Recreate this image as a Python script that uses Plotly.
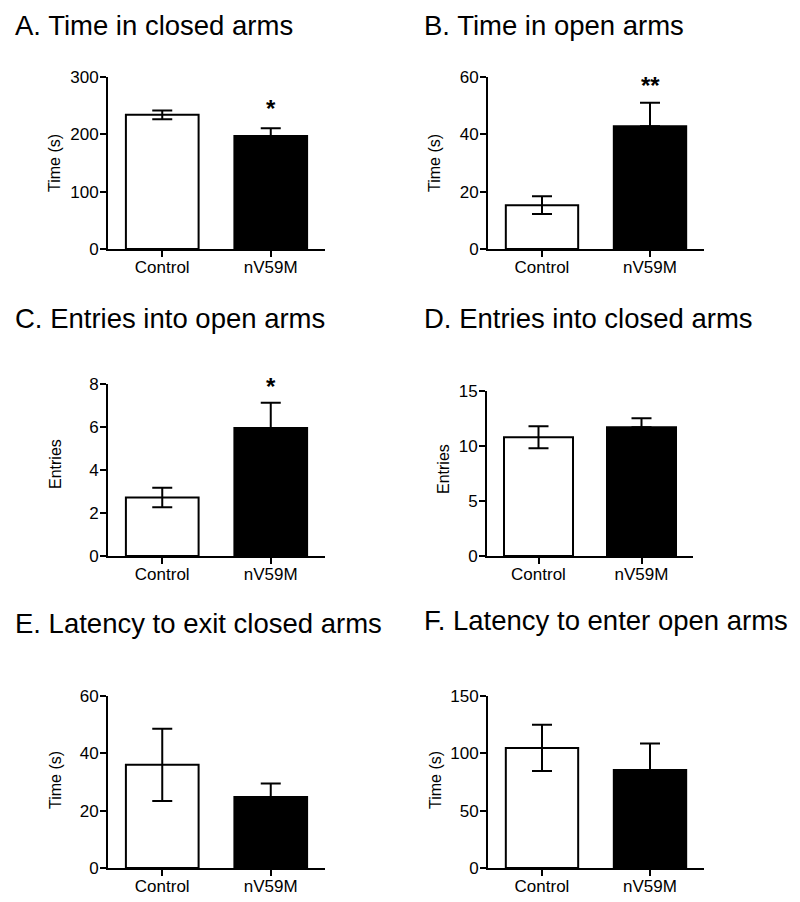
import plotly.graph_objects as go

groups = ["Control", "nV59M"]

titles = ["A. Time in closed arms", "B. Time in open arms", "C. Entries into open arms",
          "D. Entries into closed arms", "E. Latency to exit closed arms", "F. Latency to enter open arms"]
ylabels = ["Time (s)", "Time (s)", "Entries", "Entries", "Time (s)", "Time (s)"]

time_closed_mean = [234, 197]
time_closed_sem = [7.5, 13.5]
time_open_mean = [15.3, 42.8]
time_open_sem = [3.1, 8.2]
entries_open_mean = [2.72, 5.95]
entries_open_sem = [0.45, 1.18]
entries_closed_mean = [10.8, 11.7]
entries_closed_sem = [1.0, 0.82]
latency_exit_mean = [36.0, 24.8]
latency_exit_sem = [12.6, 4.7]
latency_enter_mean = [104.7, 85.5]
latency_enter_sem = [20.2, 23.0]

yticks = [[0, 100, 200, 300], [0, 20, 40, 60], [0, 2, 4, 6, 8],
          [0, 5, 10, 15], [0, 20, 40, 60], [0, 50, 100, 150]]
stars = ["*", "**", "*", "", "", ""]
star_y = [245.5, 56.9, 7.88, None, None, None]

means = [time_closed_mean, time_open_mean, entries_open_mean,
         entries_closed_mean, latency_exit_mean, latency_enter_mean]
sems = [time_closed_sem, time_open_sem, entries_open_sem,
        entries_closed_sem, latency_exit_sem, latency_enter_sem]

# page body has an 8px margin: the figure starts at (8, 8) in the window
OFF = 8
W, H = 800 - OFF, 902 - OFF
# window-pixel layout: (x0, x1, ytop, yzero)
boxes = [(108, 325, 77, 249), (488, 704, 77, 249),
         (108, 325, 384, 556), (487, 693, 391, 556),
         (108, 325, 696, 868), (488, 704, 696, 868)]
title_pos = [(13, 8), (422, 8), (13, 301), (422, 301), (13, 606), (422, 603)]
ytitle_pos = [(55, 163), (435, 163), (55, 464), (443, 469), (55, 780), (435, 780)]


def px(v):
    return (v - OFF) / W


def py(v):
    return 1 - (v - OFF) / H


fig = go.Figure()
FONT = "Arial, Liberation Sans, Helvetica, sans-serif"
annotations = []
for i in range(6):
    n = "" if i == 0 else str(i + 1)
    x0, x1, yt, yz = boxes[i]
    for j, g in enumerate(groups):
        fig.add_trace(go.Bar(
            x=[g], y=[means[i][j]],
            width=0.67,
            marker=dict(color="white" if j == 0 else "black",
                        line=dict(color="black", width=2)),
            error_y=dict(type="data", symmetric=False,
                         array=[sems[i][j]],
                         arrayminus=[sems[i][j] if j == 0 else 0],
                         color="black", thickness=2, width=10),
            xaxis="x" + n, yaxis="y" + n, showlegend=False))
    top = yticks[i][-1]
    fig.update_layout(**{
        "xaxis" + n: dict(domain=[px(x0), px(x1)], anchor="y" + n,
                          range=[-0.5, 1.5], type="category", automargin=False,
                          showline=True, linecolor="black", linewidth=2,
                          ticks="outside", ticklen=6, tickwidth=2, tickcolor="black",
                          ticklabelstandoff=-4,
                          showgrid=False, zeroline=False, fixedrange=True,
                          tickfont=dict(size=17, color="black", family=FONT)),
        "yaxis" + n: dict(domain=[py(yz), py(yt)], anchor="x" + n,
                          range=[0, top], tickvals=yticks[i], automargin=False,
                          showline=True, linecolor="black", linewidth=2,
                          ticks="outside", ticklen=6, tickwidth=2, tickcolor="black",
                          ticklabelstandoff=-2,
                          showgrid=False, zeroline=False, fixedrange=True,
                          tickfont=dict(size=17, color="black", family=FONT)),
    })
    tx, ty = title_pos[i]
    annotations.append(dict(text=titles[i], xref="paper", yref="paper",
                            x=px(tx), y=py(ty), xanchor="left", yanchor="top",
                            showarrow=False,
                            font=dict(size=27.5, color="black", family=FONT)))
    ax_, ay_ = ytitle_pos[i]
    annotations.append(dict(text=ylabels[i], xref="paper", yref="paper",
                            x=px(ax_), y=py(ay_), xanchor="center", yanchor="middle",
                            textangle=-90, showarrow=False,
                            font=dict(size=16, color="black", family=FONT)))
    if stars[i]:
        annotations.append(dict(text="<b>" + stars[i] + "</b>", xref="x" + n, yref="y" + n,
                                x=groups[1], y=star_y[i], yanchor="middle",
                                showarrow=False,
                                font=dict(size=24, color="black", family=FONT)))

fig.update_layout(width=W, height=H,
                  margin=dict(l=0, r=0, t=0, b=0, pad=0, autoexpand=False),
                  plot_bgcolor="white", paper_bgcolor="white",
                  bargap=0.33, annotations=annotations,
                  font=dict(family=FONT, color="black"))
fig.write_html("out.html")
